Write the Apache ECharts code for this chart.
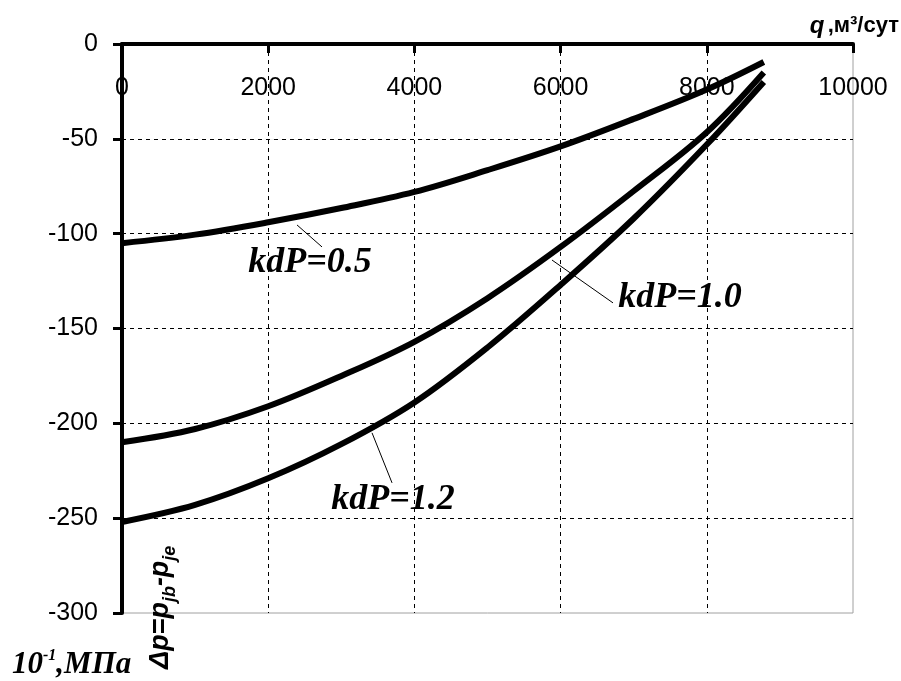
<!DOCTYPE html>
<html>
<head>
<meta charset="utf-8">
<script src="https://cdn.jsdelivr.net/npm/echarts@6/dist/echarts.min.js"></script>
<style>
  html, body { margin: 0; padding: 0; background: #fff; }
  #main { width: 901px; height: 681px; }
</style>
</head>
<body>
<div id="main"></div>
<script>
// расход q, м3/сут
const qValues = [0, 1000, 2000, 3000, 4000, 5000, 6000, 7000, 8000, 8780];
// перепад давления, 10^-1 МПа
const dpKdp05 = [-105, -100.5, -94, -86.5, -78, -66.5, -54, -39.5, -24, -9.5];
const dpKdp10 = [-210, -203, -191, -175, -157, -134, -107, -77.5, -46.5, -15];
const dpKdp12 = [-252, -243, -229, -211, -189, -160, -127, -92, -53, -20];
const seriesNames = ['kdP=0.5', 'kdP=1.0', 'kdP=1.2'];
const xTicks = [0, 2000, 4000, 6000, 8000, 10000];
const yTicks = [0, -50, -100, -150, -200, -250, -300];

const chart = echarts.init(document.getElementById('main'));

function pairs(ys) {
  return qValues.map((q, i) => [q, ys[i]]);
}

const labelFont = {
  fontFamily: 'Liberation Serif',
  fontWeight: 'bold',
  fontStyle: 'italic',
  fontSize: 36,
  color: '#000'
};

// подпись кривой + выноска
function curve(name, ys, lineFrom, lineTo, textAt) {
  return {
    name: name,
    type: 'line',
    data: pairs(ys),
    smooth: 0.35,
    symbol: 'none',
    lineStyle: { color: '#000', width: 6 },
    z: 3,
    markLine: {
      silent: true,
      symbol: 'none',
      label: { show: false },
      lineStyle: { color: '#000', width: 1, type: 'solid' },
      data: [[{ coord: lineFrom }, { coord: lineTo }]]
    },
    markPoint: {
      silent: true,
      symbol: 'rect',
      symbolSize: 1,
      itemStyle: { color: 'rgba(0,0,0,0)' },
      label: Object.assign({ show: true, position: 'inside', formatter: name }, labelFont),
      data: [{ coord: textAt }]
    }
  };
}

const option = {
  backgroundColor: '#fff',
  animation: false,
  grid: {
    left: 122, top: 44, right: 48, bottom: 68,
    show: true, borderColor: '#a0a0a0', borderWidth: 1
  },
  xAxis: {
    type: 'value',
    position: 'top',
    min: xTicks[0],
    max: xTicks[xTicks.length - 1],
    interval: 2000,
    axisLine: { show: true, onZero: false, lineStyle: { color: '#000', width: 4 } },
    axisTick: { show: true, inside: true, length: 9, lineStyle: { color: '#000', width: 3 } },
    axisLabel: {
      inside: true, margin: 32,
      formatter: v => String(v),
      fontFamily: 'Liberation Sans', fontSize: 25, color: '#000'
    },
    splitLine: {
      show: true, showMinLine: false, showMaxLine: false,
      lineStyle: { color: '#000', width: 1, type: [4, 4] }
    }
  },
  yAxis: {
    type: 'value',
    min: yTicks[yTicks.length - 1],
    max: yTicks[0],
    interval: 50,
    axisLine: { show: true, onZero: false, lineStyle: { color: '#000', width: 4 } },
    axisTick: { show: true, length: 9, lineStyle: { color: '#000', width: 3 } },
    axisLabel: {
      margin: 24,
      formatter: v => String(v),
      fontFamily: 'Liberation Sans', fontSize: 25, color: '#000'
    },
    splitLine: {
      show: true, showMinLine: false, showMaxLine: false,
      lineStyle: { color: '#000', width: 1, type: [4, 4] }
    }
  },
  graphic: [
    {
      type: 'text', right: 2, top: 14,
      style: {
        text: '{q|q} {t|,м³/сут}',
        rich: {
          q: { fontFamily: 'Liberation Sans', fontWeight: 'bold', fontStyle: 'italic', fontSize: 24, fill: '#000' },
          t: { fontFamily: 'Liberation Sans', fontWeight: 'bold', fontSize: 22, fill: '#000' }
        }
      }
    },
    {
      type: 'text', x: 12, y: 648,
      style: {
        text: '{b|10}{s|-1}{b|,МПа}',
        rich: {
          b: { fontFamily: 'Liberation Serif', fontWeight: 'bold', fontStyle: 'italic', fontSize: 31, fill: '#000', lineHeight: 32, verticalAlign: 'bottom' },
          s: { fontFamily: 'Liberation Serif', fontWeight: 'bold', fontStyle: 'italic', fontSize: 16, fill: '#000', lineHeight: 32, verticalAlign: 'top' }
        }
      }
    },
    {
      type: 'text', x: 147, y: 669, rotation: Math.PI / 2,
      style: {
        text: '{b|Δp=p}{s|jb}{b|-p}{s|je}',
        rich: {
          b: { fontFamily: 'Liberation Sans', fontWeight: 'bold', fontStyle: 'italic', fontSize: 27, fill: '#000', lineHeight: 32, verticalAlign: 'top' },
          s: { fontFamily: 'Liberation Sans', fontWeight: 'bold', fontStyle: 'italic', fontSize: 18, fill: '#000', lineHeight: 32, verticalAlign: 'bottom' }
        }
      }
    }
  ],
  series: [
    curve(seriesNames[0], dpKdp05, [2394, -95.4], [2736, -107], [2572, -115.5]),
    curve(seriesNames[1], dpKdp10, [5882, -113.9], [6717, -136.5], [7633, -133.5]),
    curve(seriesNames[2], dpKdp12, [3420, -205], [3694, -231.4], [3707, -240.5])
  ]
};

chart.setOption(option);
</script>
</body>
</html>
